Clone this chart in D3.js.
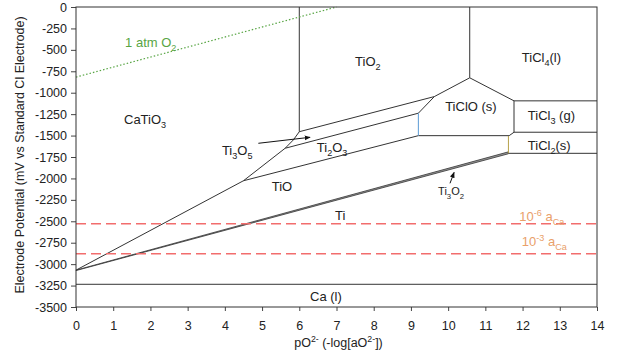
<!DOCTYPE html>
<html>
<head>
<meta charset="utf-8">
<script src="https://cdn.jsdelivr.net/npm/d3@7"></script>
<style>
  body { margin: 0; background: #fff; }
  text { font-family: "Liberation Sans", Arial, sans-serif; fill: #222; }
</style>
</head>
<body>
<div id="chart"></div>
<script>
// x = pO2-, y = potential in mV
var xTicks = d3.range(0, 15, 1);
var yTicks = d3.range(0, -3501, -250);

// phase boundaries
var boundaries = [
  [[6.0, 0], [6.0, -1455]],
  [[10.58, 0], [10.58, -826]],
  [[0, -3070], [4.5, -2027], [5.62, -1648], [5.84, -1551], [6.0, -1455]],
  [[6.0, -1455], [9.63, -1045]],
  [[5.62, -1648], [9.2, -1239]],
  [[4.5, -2027], [9.2, -1501]],
  [[9.2, -1239], [9.63, -1045], [10.58, -826], [11.77, -1095], [11.77, -1461], [11.64, -1501], [9.2, -1501]],
  [[11.77, -1095], [14, -1095]],
  [[11.77, -1461], [14, -1461]],
  [[11.62, -1707], [14, -1707]],
  [[0, -3235], [14, -3235]]
];
var blueEdge = [[9.2, -1239], [9.2, -1501]];
var oliveEdge = [[11.62, -1505], [11.62, -1707]];
var ti3o2Band = [[0, -3070], [11.62, -1690], [11.62, -1712], [0, -3075]];
var o2Line = [[0, -818], [7.0, 0]];
var caLevels = [-2530, -2880];

var labels = [
  {t: "CaTiO_{3}", x: 1.29, y: -1370},
  {t: "TiO_{2}", x: 7.5, y: -686},
  {t: "TiCl_{4}(l)", x: 11.98, y: -645},
  {t: "TiClO (s)", x: 9.92, y: -1218},
  {t: "TiCl_{3} (g)", x: 12.14, y: -1323},
  {t: "TiCl_{2}(s)", x: 12.14, y: -1668},
  {t: "Ti_{2}O_{3}", x: 6.47, y: -1697},
  {t: "Ti_{3}O_{5}", x: 3.92, y: -1721},
  {t: "TiO", x: 5.26, y: -2147},
  {t: "Ti", x: 6.96, y: -2480},
  {t: "Ti_{3}O_{2}", x: 9.73, y: -2188, small: true},
  {t: "Ca (l)", x: 6.29, y: -3433}
];
var colorLabels = [
  {t: "1 atm O_{2}", x: 1.32, y: -464, c: "#58a544"},
  {t: "10^{-6} a_{Ca}", x: 11.91, y: -2498, c: "#e9a06a"},
  {t: "10^{-3} a_{Ca}", x: 11.98, y: -2790, c: "#e9a06a"}
];
var arrows = [
  [[4.9, -1590], [6.29, -1520]],
  [[10.05, -2057], [10.16, -1929]]
];

var W = 627, H = 352;
var m = {left: 76, top: 7, right: 30, bottom: 45};
var w = W - m.left - m.right, h = H - m.top - m.bottom;

var svg = d3.select("#chart").append("svg").attr("width", W).attr("height", H);
svg.append("defs").append("marker")
  .attr("id", "arr").attr("viewBox", "0 0 10 10").attr("refX", 9).attr("refY", 5)
  .attr("markerWidth", 6).attr("markerHeight", 6).attr("orient", "auto")
  .append("path").attr("d", "M0,1L10,5L0,9z").attr("fill", "#111");

var g = svg.append("g").attr("transform", "translate(" + m.left + "," + m.top + ")");

var x = d3.scaleLinear().domain([0, 14]).range([0, w]);
var y = d3.scaleLinear().domain([-3500, 0]).range([h, 0]);
var line = d3.line().x(function(d){ return x(d[0]); }).y(function(d){ return y(d[1]); });

// axes
var xa = g.append("g").attr("transform", "translate(0," + h + ")")
  .call(d3.axisBottom(x).tickValues(xTicks).tickSize(4).tickPadding(10).tickFormat(function(d){ return d; }));
var ya = g.append("g")
  .call(d3.axisLeft(y).tickValues(yTicks).tickSize(5).tickPadding(4).tickFormat(function(d){ return String(d); }));
[xa, ya].forEach(function(a){
  a.select(".domain").remove();
  a.selectAll("line").attr("stroke", "#444");
  a.selectAll("text").style("font-size", "12.5px").style("font-family", "Liberation Sans, Arial, sans-serif").attr("fill", "#222");
});

function rich(sel, str) {
  var parts = str.split(/([_^]\{[^}]*\})/).filter(function(s){ return s; });
  var shift = 0;
  parts.forEach(function(p){
    var mm = p.match(/^([_^])\{(.*)\}$/);
    var t = sel.append("tspan");
    if (mm) {
      var d = mm[1] == "_" ? 4 : -5;
      t.attr("dy", d - shift).style("font-size", "70%").text(mm[2]);
      shift = d;
    } else {
      t.attr("dy", -shift).text(p);
      shift = 0;
    }
  });
}

// Ti3O2 sliver
g.append("path").datum(ti3o2Band).attr("d", line(ti3o2Band) + "Z")
  .attr("fill", "#999").attr("stroke", "#333").attr("stroke-width", 0.8);

// phase boundaries
g.selectAll(".bnd").data(boundaries).enter().append("path")
  .attr("class", "bnd").attr("d", line).attr("fill", "none")
  .attr("stroke", "#333").attr("stroke-width", 1);
g.append("path").attr("d", line(blueEdge)).attr("stroke", "#5b9bd5").attr("stroke-width", 1).attr("fill", "none");
g.append("path").attr("d", line(oliveEdge)).attr("stroke", "#b6a24a").attr("stroke-width", 1).attr("fill", "none");

// 1 atm O2 line
g.append("path").attr("d", line(o2Line)).attr("stroke", "#58a544").attr("stroke-width", 1.2)
  .attr("stroke-dasharray", "1.5,2").attr("fill", "none");

// Ca activity lines
g.selectAll(".ca").data(caLevels).enter().append("line")
  .attr("x1", x(0)).attr("x2", x(14))
  .attr("y1", function(d){ return y(d); }).attr("y2", function(d){ return y(d); })
  .attr("stroke", "#f26d6d").attr("stroke-width", 1.5).attr("stroke-dasharray", "10,5");

// frame
g.append("rect").attr("width", w).attr("height", h).attr("fill", "none")
  .attr("stroke", "#333").attr("stroke-width", 1);

// arrows
g.selectAll(".arw").data(arrows).enter().append("path")
  .attr("d", line).attr("stroke", "#111").attr("stroke-width", 1).attr("fill", "none")
  .attr("marker-end", "url(#arr)");

// labels
labels.forEach(function(l){
  var t = g.append("text").attr("x", x(l.x)).attr("y", y(l.y))
    .style("font-size", l.small ? "11px" : "13px");
  rich(t, l.t);
});
colorLabels.forEach(function(l){
  var t = g.append("text").attr("x", x(l.x)).attr("y", y(l.y))
    .style("font-size", "13px").style("fill", l.c);
  rich(t, l.t);
  t.selectAll("tspan").style("fill", l.c);
});

// axis titles
var yt = svg.append("text").attr("transform", "translate(24,155) rotate(-90)")
  .attr("text-anchor", "middle").style("font-size", "12.5px");
yt.text("Electrode Potential (mV vs Standard Cl Electrode)");
var xt = svg.append("text").attr("x", m.left + w / 2 + 2).attr("y", 347)
  .attr("text-anchor", "middle").style("font-size", "12.5px");
rich(xt, "pO^{2-} (-log[aO^{2-}])");
</script>
</body>
</html>
